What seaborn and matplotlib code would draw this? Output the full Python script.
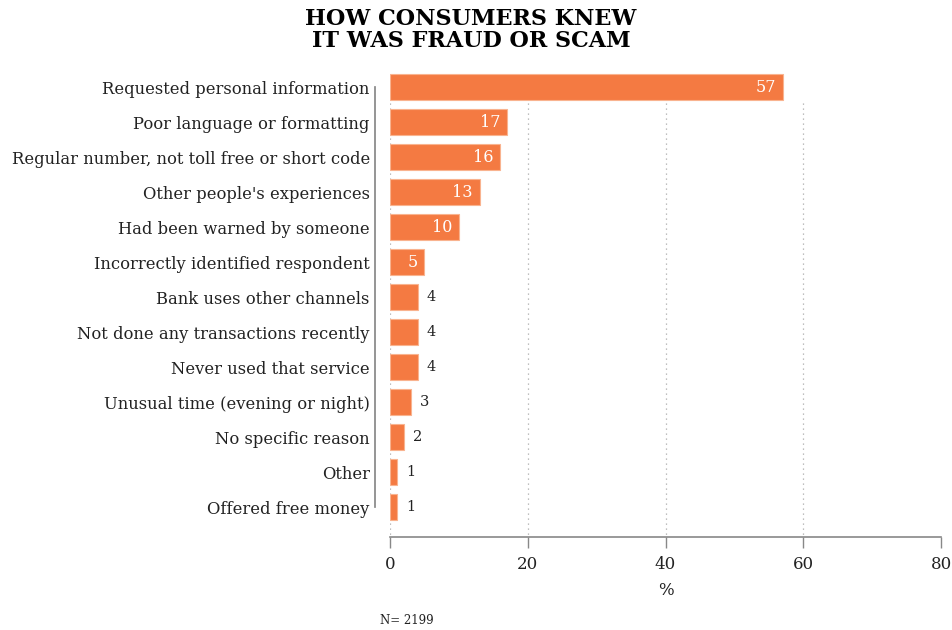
import matplotlib
matplotlib.use("Agg")
import matplotlib.pyplot as plt
import seaborn as sns
import pandas as pd

reasons = [
    "Requested personal information",
    "Poor language or formatting",
    "Regular number, not toll free or short code",
    "Other people's experiences",
    "Had been warned by someone",
    "Incorrectly identified respondent",
    "Bank uses other channels",
    "Not done any transactions recently",
    "Never used that service",
    "Unusual time (evening or night)",
    "No specific reason",
    "Other",
    "Offered free money",
]
shares = [57, 17, 16, 13, 10, 5, 4, 4, 4, 3, 2, 1, 1]
x_ticks = [0, 20, 40, 60, 80]
title = "HOW CONSUMERS KNEW\nIT WAS FRAUD OR SCAM"
sample_note = "N= 2199"

df = pd.DataFrame({"reason": reasons, "share": shares})

sns.set_theme(style="white")
plt.rcParams["font.family"] = ["DejaVu Serif"]
text_color = "#222222"
bar_color = "#F47A42"

fig = plt.figure(figsize=(9.53, 6.3), dpi=100)
ax = fig.add_axes([390 / 953, 1 - 537 / 630, (941 - 390) / 953, (537 - 66) / 630])

sns.barplot(data=df, x="share", y="reason", ax=ax, color=bar_color,
            saturation=1, width=0.74, edgecolor="#F9B38F", linewidth=0.8)

ax.set_xlim(0, 80)
ax.set_ylim(12.857, -0.6)
ax.set_xticks(x_ticks)
ax.set_xticklabels([str(t) for t in x_ticks], fontsize=12, color=text_color)
ax.set_xlabel("%", fontsize=12, color=text_color, labelpad=6)
ax.set_ylabel("")
ax.tick_params(axis="y", length=0, pad=3.5, labelsize=11.8, labelcolor=text_color)
for lbl in ax.get_yticklabels():
    lbl.set_verticalalignment("center_baseline")
ax.tick_params(axis="x", length=8, width=1, color="#888888", pad=6, bottom=True)

# dotted guides below the first bar
ax.vlines(x_ticks[:-1], 0.45, 12.857, colors="#AAAAAA", linestyles=(0, (1, 3)),
          linewidth=0.9, zorder=0)

for s in ["top", "right"]:
    ax.spines[s].set_visible(False)
ax.spines["left"].set_position(("outward", 11))
ax.spines["left"].set_bounds(0, 12)
ax.spines["left"].set_color("#888888")
ax.spines["bottom"].set_color("#888888")
ax.spines["bottom"].set_linewidth(1.2)

for i, v in enumerate(shares):
    if v >= 5:
        ax.text(v - 1.0, i, str(v), ha="right", va="center", color="white", fontsize=11.5)
    else:
        ax.text(v + 1.3, i, str(v), ha="left", va="center", color=text_color, fontsize=10.5)

fig.text(471 / 953, 1 - 30 / 630, title, ha="center", va="center", fontsize=16,
         fontweight="bold", color="black", linespacing=1.0)
fig.text(380 / 953, 1 - 621 / 630, sample_note, ha="left", va="center", fontsize=8.5,
         color=text_color)

fig.savefig("out.png", dpi=100)
